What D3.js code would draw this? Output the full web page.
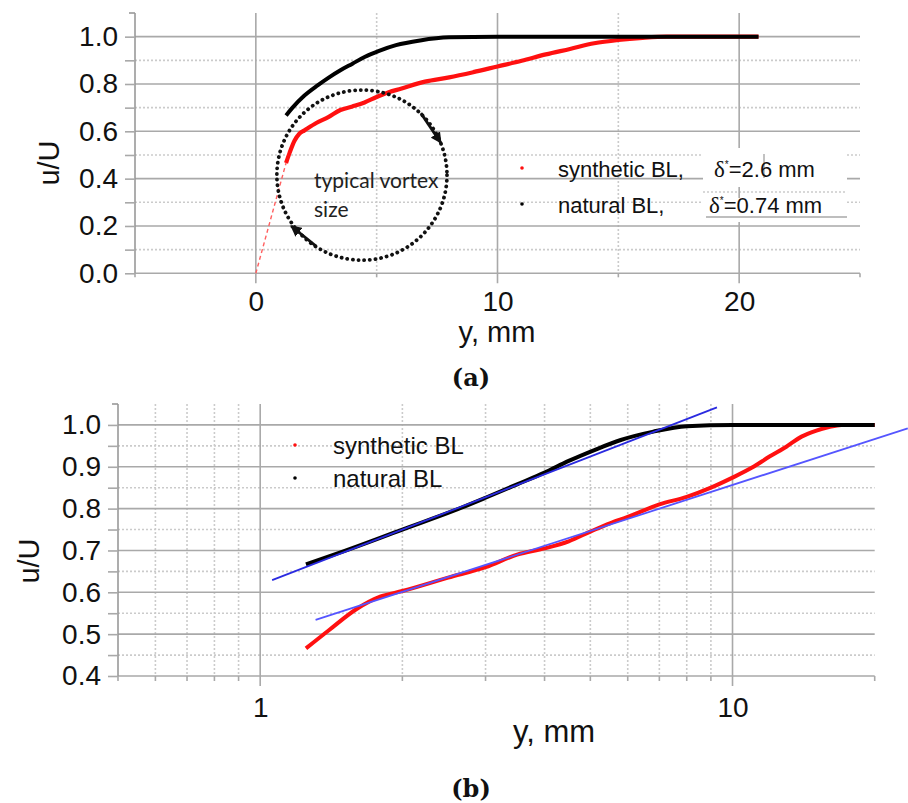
<!DOCTYPE html>
<html>
<head>
<meta charset="utf-8">
<script src="https://cdn.jsdelivr.net/npm/d3@7"></script>
<style>
body{margin:0;background:#fff}
</style>
</head>
<body>
<svg id="chart" width="908" height="803"></svg>
<script>
// synthetic BL (red), y in mm and u/U
var synth_y = [1.25, 1.4, 1.6, 1.8, 2.0, 2.5, 3.0, 3.5, 4.0, 4.5, 5.0, 5.5, 6.0, 7.0, 8.0, 9.0, 10, 11, 12, 13, 14, 15, 16, 17, 18, 20.8]
var synth_u = [0.466, 0.51, 0.56, 0.59, 0.603, 0.635, 0.66, 0.69, 0.705, 0.722, 0.745, 0.765, 0.78, 0.81, 0.828, 0.85, 0.874, 0.898, 0.925, 0.948, 0.972, 0.986, 0.995, 1.0, 1.0, 1.0]
// natural BL (black)
var natural_y = [1.25, 1.5, 2.0, 2.57, 3.0, 3.5, 4.0, 4.5, 5.1, 5.8, 6.8, 8.0, 10, 14, 20.8]
var natural_u = [0.667, 0.698, 0.75, 0.795, 0.826, 0.858, 0.886, 0.914, 0.94, 0.964, 0.984, 0.997, 1.0, 1.0, 1.0]
// log-law fits (blue)
var synth_fit_y = [1.31, 23.5]
var synth_fit_u = [0.534, 0.992]
var natural_fit_y = [1.06, 9.27]
var natural_fit_u = [0.629, 1.042]

var legend_names = ["synthetic BL", "natural BL"]
var legend_colors = ["#ff1010", "#000000"]
var delta_star = ["2.6", "0.74"]

// panel (a) ticks
var a_x_labels = [0, 10, 20]
var a_x_minor = [-5, 5, 15, 25]
var a_y_labels = [0.0, 0.2, 0.4, 0.6, 0.8, 1.0]
var a_y_minor = [0.1, 0.3, 0.5, 0.7, 0.9]
// panel (b) ticks
var b_x_labels = [1, 10]
var b_x_minor = [0.5, 0.6, 0.7, 0.8, 0.9, 2, 3, 4, 5, 6, 7, 8, 9, 20]
var b_y_labels = [0.4, 0.5, 0.6, 0.7, 0.8, 0.9, 1.0]
var b_y_minor = [0.45, 0.55, 0.65, 0.75, 0.85, 0.95]

// vortex annotation (mm, u/U)
var vortex_center = [4.39, 0.415]
var vortex_radius = 3.52
var vortex_arrows = [[[6.83, 0.677], [7.66, 0.551]], [[2.49, 0.115], [1.46, 0.2]]]

var sans = "Liberation Sans, Arial, sans-serif"
var svg = d3.select("#chart").attr("font-family", sans)
var grid_solid = "#a9a9a9"
var grid_dot = "#cbcbcb"
var tick_font = 28

svg.append("defs").append("marker")
    .attr("id", "arrow")
    .attr("viewBox", "0 0 10 10")
    .attr("refX", 9)
    .attr("refY", 5)
    .attr("markerWidth", 4)
    .attr("markerHeight", 4)
    .attr("orient", "auto")
    .append("path")
    .attr("d", "M0,0 L10,5 L0,10 z")
    .attr("fill", "#111")

function hgrid(g, vals, x0, x1, yscale, dotted){
  g.selectAll(null)
      .data(vals)
      .enter()
      .append("line")
      .attr("x1", x0)
      .attr("x2", x1)
      .attr("y1", function(d){ return yscale(d) })
      .attr("y2", function(d){ return yscale(d) })
      .attr("stroke", dotted ? grid_dot : grid_solid)
      .attr("stroke-width", 1.6)
      .attr("stroke-dasharray", dotted ? "2,2" : null)
}

function vgrid(g, vals, xscale, y0, y1, dotted){
  g.selectAll(null)
      .data(vals)
      .enter()
      .append("line")
      .attr("x1", function(d){ return xscale(d) })
      .attr("x2", function(d){ return xscale(d) })
      .attr("y1", y0)
      .attr("y2", y1)
      .attr("stroke", dotted ? grid_dot : grid_solid)
      .attr("stroke-width", 1.6)
      .attr("stroke-dasharray", dotted ? "2,2" : null)
}

function style_axis(ax){
  ax.attr("font-family", sans).attr("font-size", tick_font)
  ax.select(".domain").remove()
  ax.selectAll(".tick line").attr("stroke", grid_solid).attr("stroke-width", 1.6)
  ax.selectAll(".tick text").attr("fill", "#111")
}

function draw_panel_a(){
  var x = d3.scaleLinear().domain([-5, 25]).range([135, 860])
  var y = d3.scaleLinear().domain([0, 1.1]).range([273.3, 13])
  var g = svg.append("g").attr("id", "panel_a")

  hgrid(g, a_y_minor, x(-5), x(25), y, true)
  vgrid(g, [5, 15], x, y(1.1), y(0), true)
  hgrid(g, a_y_labels, x(-5), x(25), y, false)
  vgrid(g, a_x_labels, x, y(1.1), y(0) + 10, false)
  // left axis line
  g.append("line")
      .attr("x1", x(-5)).attr("x2", x(-5))
      .attr("y1", y(1.1)).attr("y2", y(0))
      .attr("stroke", "#999").attr("stroke-width", 1.6)
  g.append("line")
      .attr("x1", x(-5) - 6).attr("x2", x(-5))
      .attr("y1", y(1.1)).attr("y2", y(1.1))
      .attr("stroke", "#999").attr("stroke-width", 1.6)

  var yaxis = g.append("g")
      .attr("transform", "translate(" + x(-5) + ",0)")
      .call(d3.axisLeft(y).tickValues(a_y_labels.concat(a_y_minor)).tickSize(10).tickPadding(7)
        .tickFormat(function(d){ return a_y_labels.indexOf(d) >= 0 ? d3.format(".1f")(d) : "" }))
  style_axis(yaxis)

  var xaxis = g.append("g")
      .attr("transform", "translate(0," + y(0) + ")")
      .call(d3.axisBottom(x).tickValues(a_x_labels).tickSize(0).tickPadding(18).tickFormat(d3.format("d")))
  style_axis(xaxis)
  g.selectAll(null)
      .data(a_x_minor)
      .enter()
      .append("line")
      .attr("x1", function(d){ return x(d) })
      .attr("x2", function(d){ return x(d) })
      .attr("y1", y(0))
      .attr("y2", y(0) + 4)
      .attr("stroke", grid_solid)
      .attr("stroke-width", 1.6)

  // legend patch with its own shifted lines
  g.append("rect")
      .attr("x", 703).attr("y", 148)
      .attr("width", 144).attr("height", 74)
      .attr("fill", "#fff")
  g.append("line").attr("x1", 703).attr("x2", 847).attr("y1", 192).attr("y2", 192)
      .attr("stroke", grid_dot).attr("stroke-width", 1.6).attr("stroke-dasharray", "2,2")
  g.append("line").attr("x1", 706).attr("x2", 847).attr("y1", 217).attr("y2", 217)
      .attr("stroke", grid_solid).attr("stroke-width", 1.6)
  g.append("line").attr("x1", x(20)).attr("x2", x(20)).attr("y1", 187).attr("y2", 198)
      .attr("stroke", grid_solid).attr("stroke-width", 1.6)
  g.append("line").attr("x1", 764).attr("x2", 764).attr("y1", 154).attr("y2", 178)
      .attr("stroke", "#999").attr("stroke-width", 1.2)

  // dashed extrapolation to wall
  g.append("line")
      .attr("x1", x(0)).attr("y1", y(0))
      .attr("x2", x(synth_y[0])).attr("y2", y(synth_u[0]))
      .attr("stroke", "#ff6060")
      .attr("stroke-width", 1.4)
      .attr("stroke-dasharray", "4,3")

  var line = d3.line()
      .x(function(d){ return x(d[0]) })
      .y(function(d){ return y(d[1]) })
      .curve(d3.curveMonotoneX)

  g.append("path")
      .datum(d3.zip(synth_y, synth_u))
      .attr("d", line)
      .attr("fill", "none")
      .attr("stroke", legend_colors[0])
      .attr("stroke-width", 4.2)
  g.append("path")
      .datum(d3.zip(natural_y, natural_u))
      .attr("d", line)
      .attr("fill", "none")
      .attr("stroke", legend_colors[1])
      .attr("stroke-width", 4)

  // typical vortex size
  g.append("circle")
      .attr("cx", x(vortex_center[0]))
      .attr("cy", y(vortex_center[1]))
      .attr("r", x(vortex_radius) - x(0))
      .attr("fill", "none")
      .attr("stroke", "#111")
      .attr("stroke-width", 3.8)
      .attr("stroke-linecap", "round")
      .attr("stroke-dasharray", "0.1,5.6")
  g.selectAll(null)
      .data(vortex_arrows)
      .enter()
      .append("line")
      .attr("x1", function(d){ return x(d[0][0]) })
      .attr("y1", function(d){ return y(d[0][1]) })
      .attr("x2", function(d){ return x(d[1][0]) })
      .attr("y2", function(d){ return y(d[1][1]) })
      .attr("stroke", "#111")
      .attr("stroke-width", 2.8)
      .attr("marker-end", "url(#arrow)")
  var vt = g.append("text")
      .attr("font-family", "Lato, 'Open Sans', sans-serif")
      .attr("font-size", 21)
      .attr("fill", "#222")
  vt.append("tspan").attr("x", 314).attr("y", 188).text("typical vortex")
  vt.append("tspan").attr("x", 314).attr("y", 217).text("size")

  // legend
  var leg = g.selectAll(".leg")
      .data(legend_names)
      .enter()
      .append("g")
      .attr("class", "leg")
      .attr("transform", function(d, i){ return "translate(0," + (i * 36) + ")" })
  leg.append("circle")
      .attr("cx", 522)
      .attr("cy", 168)
      .attr("r", 1.8)
      .attr("fill", function(d, i){ return legend_colors[i] })
  leg.append("text")
      .attr("x", 558)
      .attr("y", 177)
      .attr("font-size", 22)
      .attr("fill", "#111")
      .text(function(d){ return d + "," })
  var dt = leg.append("text")
      .attr("x", function(d, i){ return i == 0 ? 714 : 709 })
      .attr("y", 177)
      .attr("font-size", 22)
      .attr("fill", "#111")
  dt.append("tspan")
      .attr("font-family", "Liberation Serif, serif")
      .attr("font-size", 23)
      .text("δ")
  dt.append("tspan")
      .attr("dy", -9)
      .attr("font-size", 10)
      .text("*")
  dt.append("tspan")
      .attr("dy", 9)
      .text(function(d, i){ return "=" + delta_star[i] + " mm" })

  // axis titles
  g.append("text")
      .attr("transform", "translate(59,163) rotate(-90)")
      .attr("text-anchor", "middle")
      .attr("font-size", 29)
      .attr("fill", "#111")
      .text("u/U")
  g.append("text")
      .attr("x", 497)
      .attr("y", 342)
      .attr("text-anchor", "middle")
      .attr("font-size", 29)
      .attr("fill", "#111")
      .text("y, mm")
  g.append("text")
      .attr("x", 471)
      .attr("y", 386)
      .attr("text-anchor", "middle")
      .attr("font-family", "DejaVu Serif, serif")
      .attr("font-weight", "bold")
      .attr("font-size", 24)
      .attr("fill", "#111")
      .text("(a)")
}

function draw_panel_b(){
  var x = d3.scaleLog().domain([0.5, 20]).range([118, 874.7])
  var y = d3.scaleLinear().domain([0.4, 1.05]).range([676, 404])
  var g = svg.append("g").attr("id", "panel_b")

  hgrid(g, b_y_minor, x(0.5), x(20), y, true)
  vgrid(g, b_x_minor.filter(function(d){ return d != 0.5 && d != 20 }), x, y(1.05), y(0.4), true)
  hgrid(g, b_y_labels, x(0.5), x(20), y, false)
  vgrid(g, b_x_labels, x, y(1.05), y(0.4) + 10, false)
  g.append("line")
      .attr("x1", x(0.5)).attr("x2", x(0.5))
      .attr("y1", y(1.05)).attr("y2", y(0.4))
      .attr("stroke", "#999").attr("stroke-width", 1.6)
  g.append("line")
      .attr("x1", x(0.5) - 6).attr("x2", x(0.5))
      .attr("y1", y(1.05)).attr("y2", y(1.05))
      .attr("stroke", "#999").attr("stroke-width", 1.6)

  var yaxis = g.append("g")
      .attr("transform", "translate(" + x(0.5) + ",0)")
      .call(d3.axisLeft(y).tickValues(b_y_labels.concat(b_y_minor)).tickSize(10).tickPadding(7)
        .tickFormat(function(d){ return b_y_labels.indexOf(d) >= 0 ? d3.format(".1f")(d) : "" }))
  style_axis(yaxis)

  var xaxis = g.append("g")
      .attr("transform", "translate(0," + y(0.4) + ")")
      .call(d3.axisBottom(x).tickValues(b_x_labels).tickSize(0).tickPadding(21).tickFormat(d3.format("d")))
  style_axis(xaxis)
  g.selectAll(null)
      .data(b_x_minor)
      .enter()
      .append("line")
      .attr("x1", function(d){ return x(d) })
      .attr("x2", function(d){ return x(d) })
      .attr("y1", y(0.4))
      .attr("y2", y(0.4) + 5)
      .attr("stroke", grid_solid)
      .attr("stroke-width", 1.6)

  var line = d3.line()
      .x(function(d){ return x(d[0]) })
      .y(function(d){ return y(d[1]) })
      .curve(d3.curveMonotoneX)

  g.append("path")
      .datum(d3.zip(synth_y, synth_u).filter(function(d){ return d[0] <= 20 }).concat([[20, 1.0]]))
      .attr("d", line)
      .attr("fill", "none")
      .attr("stroke", legend_colors[0])
      .attr("stroke-width", 4)
  g.append("path")
      .datum(d3.zip(natural_y, natural_u).filter(function(d){ return d[0] <= 20 }).concat([[20, 1.0]]))
      .attr("d", line)
      .attr("fill", "none")
      .attr("stroke", legend_colors[1])
      .attr("stroke-width", 4)

  g.append("path")
      .datum(d3.zip(natural_fit_y, natural_fit_u))
      .attr("d", d3.line().x(function(d){ return x(d[0]) }).y(function(d){ return y(d[1]) }))
      .attr("stroke", "#2a2ae0")
      .attr("stroke-width", 1.8)
  g.append("path")
      .datum(d3.zip(synth_fit_y, synth_fit_u))
      .attr("d", d3.line().x(function(d){ return x(d[0]) }).y(function(d){ return y(d[1]) }))
      .attr("stroke", "#5555ff")
      .attr("stroke-width", 1.8)

  var leg = g.selectAll(".leg")
      .data(legend_names)
      .enter()
      .append("g")
      .attr("class", "leg")
      .attr("transform", function(d, i){ return "translate(0," + (i * 33) + ")" })
  leg.append("circle")
      .attr("cx", 295)
      .attr("cy", 445)
      .attr("r", 1.8)
      .attr("fill", function(d, i){ return legend_colors[i] })
  leg.append("text")
      .attr("x", 333)
      .attr("y", 454)
      .attr("font-size", 24)
      .attr("fill", "#111")
      .text(function(d){ return d })

  g.append("text")
      .attr("transform", "translate(39,561) rotate(-90)")
      .attr("text-anchor", "middle")
      .attr("font-size", 29)
      .attr("fill", "#111")
      .text("u/U")
  g.append("text")
      .attr("x", 554)
      .attr("y", 742)
      .attr("text-anchor", "middle")
      .attr("font-size", 31)
      .attr("fill", "#111")
      .text("y, mm")
  g.append("text")
      .attr("x", 471)
      .attr("y", 797)
      .attr("text-anchor", "middle")
      .attr("font-family", "DejaVu Serif, serif")
      .attr("font-weight", "bold")
      .attr("font-size", 24)
      .attr("fill", "#111")
      .text("(b)")
}

draw_panel_a()
draw_panel_b()
</script>
</body>
</html>
